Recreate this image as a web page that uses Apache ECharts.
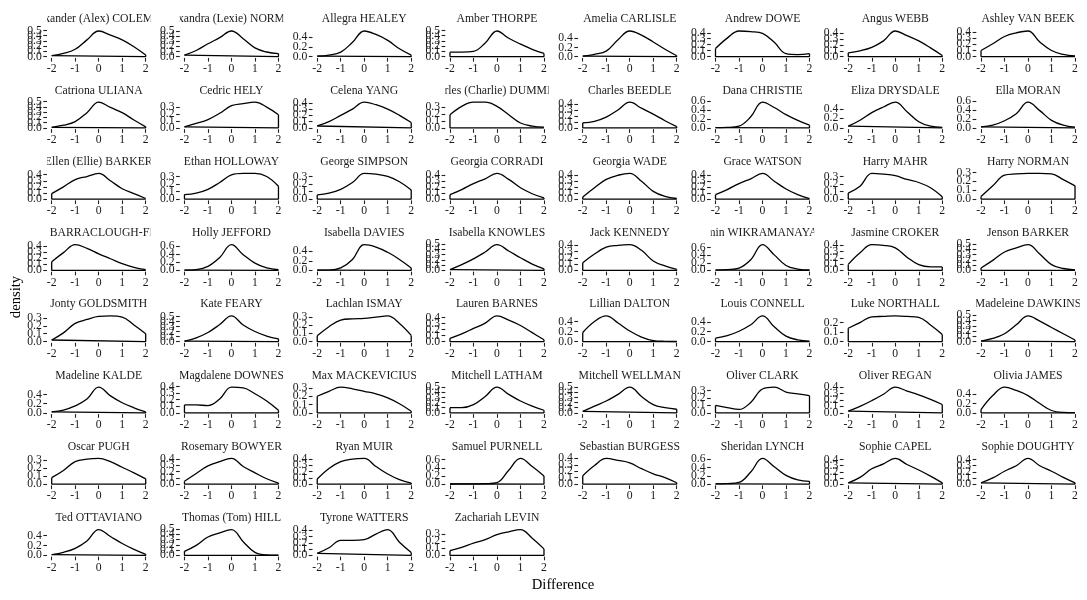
<!DOCTYPE html>
<html>
<head>
<meta charset="utf-8">
<script src="https://cdn.jsdelivr.net/npm/echarts@6/dist/echarts.min.js"></script>
<style>
  html, body { margin: 0; padding: 0; background: #fff; }
  #main { width: 1087px; height: 600px; }
</style>
</head>
<body>
<div id="main"></div>
<script>
// panel names, in facet order (8 per row)
var names = [
  'Alexander (Alex) COLEMAN', 'Alexandra (Lexie) NORMAN', 'Allegra HEALEY', 'Amber THORPE',
  'Amelia CARLISLE', 'Andrew DOWE', 'Angus WEBB', 'Ashley VAN BEEK',
  'Catriona ULIANA', 'Cedric HELY', 'Celena YANG', 'Charles (Charlie) DUMMETT',
  'Charles BEEDLE', 'Dana CHRISTIE', 'Eliza DRYSDALE', 'Ella MORAN',
  'Ellen (Ellie) BARKER', 'Ethan HOLLOWAY', 'George SIMPSON', 'Georgia CORRADI',
  'Georgia WADE', 'Grace WATSON', 'Harry MAHR', 'Harry NORMAN',
  'Hannah BARRACLOUGH-FRASER', 'Holly JEFFORD', 'Isabella DAVIES', 'Isabella KNOWLES',
  'Jack KENNEDY', 'Jasmin WIKRAMANAYAKE', 'Jasmine CROKER', 'Jenson BARKER',
  'Jonty GOLDSMITH', 'Kate FEARY', 'Lachlan ISMAY', 'Lauren BARNES',
  'Lillian DALTON', 'Louis CONNELL', 'Luke NORTHALL', 'Madeleine DAWKINS',
  'Madeline KALDE', 'Magdalene DOWNES', 'Max MACKEVICIUS', 'Mitchell LATHAM',
  'Mitchell WELLMAN', 'Oliver CLARK', 'Oliver REGAN', 'Olivia JAMES',
  'Oscar PUGH', 'Rosemary BOWYER', 'Ryan MUIR', 'Samuel PURNELL',
  'Sebastian BURGESS', 'Sheridan LYNCH', 'Sophie CAPEL', 'Sophie DOUGHTY',
  'Ted OTTAVIANO', 'Thomas (Tom) HILL', 'Tyrone WATTERS', 'Zachariah LEVIN'
];

var xs = [-2, -1.5, -1, -0.5, 0, 0.5, 1, 1.5, 2];

// density at each x, one row per panel
var densities = [
  [0.02, 0.06, 0.14, 0.32, 0.49, 0.41, 0.32, 0.19, 0.03],
  [0.03, 0.12, 0.25, 0.37, 0.50, 0.35, 0.17, 0.09, 0.06],
  [0.01, 0.03, 0.09, 0.29, 0.52, 0.45, 0.33, 0.16, 0.03],
  [0.085, 0.085, 0.10, 0.26, 0.49, 0.35, 0.24, 0.14, 0.06],
  [0.01, 0.05, 0.12, 0.37, 0.56, 0.47, 0.32, 0.16, 0.02],
  [0.135, 0.31, 0.43, 0.42, 0.39, 0.24, 0.05, 0.035, 0.05],
  [0.065, 0.10, 0.16, 0.27, 0.44, 0.36, 0.27, 0.15, 0.02],
  [0.10, 0.21, 0.33, 0.39, 0.42, 0.24, 0.10, 0.035, 0.01],

  [0.01, 0.05, 0.12, 0.29, 0.49, 0.39, 0.29, 0.15, 0.02],
  [0.015, 0.064, 0.12, 0.21, 0.32, 0.35, 0.37, 0.30, 0.19],
  [0.03, 0.10, 0.20, 0.30, 0.41, 0.37, 0.30, 0.20, 0.085],
  [0.19, 0.31, 0.37, 0.37, 0.31, 0.19, 0.07, 0.025, 0.01],
  [0.085, 0.11, 0.18, 0.30, 0.43, 0.33, 0.23, 0.12, 0.02],
  [0.005, 0.01, 0.04, 0.25, 0.58, 0.46, 0.30, 0.17, 0.06],
  [0.035, 0.16, 0.32, 0.44, 0.54, 0.34, 0.13, 0.035, 0.01],
  [0.02, 0.06, 0.16, 0.32, 0.58, 0.39, 0.17, 0.06, 0.015],

  [0.09, 0.20, 0.32, 0.37, 0.42, 0.30, 0.17, 0.09, 0.01],
  [0.06, 0.08, 0.13, 0.22, 0.32, 0.34, 0.34, 0.30, 0.17],
  [0.055, 0.08, 0.13, 0.22, 0.34, 0.33, 0.30, 0.23, 0.12],
  [0.075, 0.16, 0.26, 0.34, 0.43, 0.33, 0.19, 0.09, 0.02],
  [0.035, 0.19, 0.33, 0.40, 0.43, 0.30, 0.13, 0.045, 0.01],
  [0.075, 0.16, 0.26, 0.34, 0.43, 0.30, 0.17, 0.075, 0.01],
  [0.08, 0.17, 0.34, 0.33, 0.31, 0.26, 0.22, 0.15, 0.03],
  [0.03, 0.15, 0.27, 0.285, 0.29, 0.29, 0.285, 0.22, 0.15],

  [0.14, 0.29, 0.42, 0.36, 0.27, 0.19, 0.11, 0.05, 0.01],
  [0.005, 0.02, 0.10, 0.32, 0.64, 0.39, 0.18, 0.06, 0.015],
  [0.005, 0.005, 0.05, 0.23, 0.54, 0.49, 0.38, 0.23, 0.05],
  [0.015, 0.11, 0.22, 0.35, 0.49, 0.37, 0.24, 0.12, 0.03],
  [0.12, 0.26, 0.37, 0.40, 0.41, 0.32, 0.15, 0.07, 0.015],
  [0.005, 0.02, 0.06, 0.28, 0.68, 0.41, 0.13, 0.035, 0.01],
  [0.095, 0.28, 0.41, 0.40, 0.36, 0.21, 0.09, 0.055, 0.055],
  [0.045, 0.19, 0.35, 0.43, 0.49, 0.31, 0.11, 0.035, 0.01],

  [0.02, 0.11, 0.23, 0.28, 0.32, 0.325, 0.31, 0.21, 0.10],
  [0.01, 0.075, 0.18, 0.34, 0.51, 0.33, 0.20, 0.11, 0.055],
  [0.07, 0.18, 0.26, 0.275, 0.28, 0.295, 0.31, 0.22, 0.075],
  [0.055, 0.13, 0.22, 0.31, 0.43, 0.36, 0.27, 0.15, 0.03],
  [0.18, 0.40, 0.51, 0.37, 0.21, 0.09, 0.02, 0.005, 0.002],
  [0.07, 0.12, 0.21, 0.34, 0.52, 0.30, 0.11, 0.035, 0.01],
  [0.14, 0.20, 0.26, 0.265, 0.27, 0.265, 0.255, 0.175, 0.075],
  [0.01, 0.06, 0.15, 0.32, 0.49, 0.39, 0.27, 0.15, 0.03],

  [0.02, 0.06, 0.15, 0.30, 0.56, 0.37, 0.22, 0.11, 0.02],
  [0.12, 0.12, 0.11, 0.21, 0.39, 0.38, 0.29, 0.18, 0.04],
  [0.20, 0.26, 0.31, 0.29, 0.26, 0.23, 0.18, 0.11, 0.02],
  [0.10, 0.10, 0.16, 0.32, 0.50, 0.36, 0.23, 0.13, 0.05],
  [0.03, 0.13, 0.23, 0.36, 0.50, 0.32, 0.16, 0.10, 0.07],
  [0.10, 0.07, 0.045, 0.14, 0.32, 0.345, 0.28, 0.255, 0.23],
  [0.025, 0.10, 0.19, 0.29, 0.40, 0.34, 0.28, 0.21, 0.13],
  [0.07, 0.37, 0.55, 0.48, 0.37, 0.20, 0.05, 0.01, 0.005],

  [0.08, 0.17, 0.28, 0.31, 0.32, 0.28, 0.21, 0.14, 0.065],
  [0.045, 0.17, 0.29, 0.36, 0.41, 0.28, 0.18, 0.085, 0.015],
  [0.08, 0.25, 0.36, 0.40, 0.41, 0.28, 0.16, 0.07, 0.015],
  [0.002, 0.003, 0.005, 0.01, 0.035, 0.34, 0.63, 0.43, 0.20],
  [0.13, 0.29, 0.40, 0.37, 0.33, 0.24, 0.16, 0.10, 0.02],
  [0.003, 0.01, 0.04, 0.29, 0.62, 0.42, 0.21, 0.10, 0.065],
  [0.02, 0.11, 0.25, 0.33, 0.42, 0.32, 0.23, 0.13, 0.02],
  [0.02, 0.10, 0.21, 0.30, 0.42, 0.30, 0.21, 0.11, 0.02],

  [0.015, 0.06, 0.14, 0.29, 0.52, 0.38, 0.24, 0.12, 0.02],
  [0.075, 0.19, 0.35, 0.43, 0.49, 0.26, 0.055, 0.007, 0.003],
  [0.03, 0.12, 0.24, 0.24, 0.25, 0.34, 0.41, 0.21, 0.045],
  [0.065, 0.11, 0.17, 0.22, 0.29, 0.33, 0.36, 0.24, 0.09]
];

// y tick step of each panel
var yStep = [
  0.1, 0.1, 0.2, 0.1, 0.2, 0.1, 0.1, 0.1,
  0.1, 0.1, 0.1, 0.1, 0.1, 0.2, 0.2, 0.2,
  0.1, 0.1, 0.1, 0.1, 0.1, 0.1, 0.1, 0.1,
  0.1, 0.2, 0.2, 0.1, 0.1, 0.2, 0.1, 0.1,
  0.1, 0.1, 0.1, 0.1, 0.2, 0.2, 0.1, 0.1,
  0.2, 0.1, 0.1, 0.1, 0.1, 0.1, 0.1, 0.2,
  0.1, 0.1, 0.1, 0.2, 0.1, 0.2, 0.1, 0.1,
  0.2, 0.1, 0.1, 0.1
];

var xTicks = [-2, -1, 0, 1, 2];

var FONT = '"Liberation Serif", "DejaVu Serif", serif';
var TXT = '#1a1a1a';
var COLS = 8;
var PANEL_L = 47, PANEL_W = 103.4, COL_STEP = 132.76;
var PANEL_T = 29.7, PANEL_H = 28.2, ROW_STEP = 71.24;
var TITLE_Y = 19.3;
var TICK_LEN = 3.7;
var X_MIN = -2.2, X_MAX = 2.2;

var chart = echarts.init(document.getElementById('main'));

var grids = [], xAxes = [], yAxes = [], series = [];

// y tick labels are drawn by a custom series so that none get thinned out
function yLabelItem(params, api) {
    var p = api.coord([X_MIN, api.value(1)]);
    return {
        type: 'text',
        x: p[0] - TICK_LEN - 1.5,
        y: p[1],
        style: {
            text: api.value(1).toFixed(1), fill: TXT, fontSize: 11.7, fontFamily: FONT,
            align: 'right', verticalAlign: 'middle'
        }
    };
}

for (var i = 0; i < names.length; i++) {
    var c = i % COLS, r = Math.floor(i / COLS);
    var d = densities[i];
    var dmax = Math.max.apply(null, d);
    var yMax = dmax * 1.05;
    var yTicks = [];
    for (var t = 0; t <= yMax + 1e-9; t = Math.round((t + yStep[i]) * 10) / 10) {
        yTicks.push(t);
    }

    grids.push({
        left: PANEL_L + c * COL_STEP,
        top: PANEL_T + r * ROW_STEP,
        width: PANEL_W,
        height: PANEL_H,
        containLabel: false,
        outerBoundsMode: 'none'
    });

    xAxes.push({
        type: 'value',
        gridIndex: i,
        min: X_MIN,
        max: X_MAX,
        axisLine: {show: false, onZero: false},
        splitLine: {show: false},
        axisTick: {show: true, length: TICK_LEN, customValues: xTicks, lineStyle: {color: '#222', width: 1.1}},
        axisLabel: {
            customValues: xTicks, margin: 5, fontSize: 11.7, fontFamily: FONT, color: TXT,
            showMinLabel: true, showMaxLabel: true, hideOverlap: false
        }
    });

    yAxes.push({
        type: 'value',
        gridIndex: i,
        min: -0.05 * dmax,
        max: yMax,
        axisLine: {show: false, onZero: false},
        splitLine: {show: false},
        axisTick: {show: true, length: TICK_LEN, customValues: yTicks, lineStyle: {color: '#222', width: 1.1}},
        axisLabel: {show: false}
    });

    var pts = [];
    for (var k = 0; k < xs.length; k++) pts.push([xs[k], d[k]]);

    series.push({
        type: 'line', xAxisIndex: i, yAxisIndex: i,
        data: pts, smooth: 0.4, symbol: 'none', silent: true,
        lineStyle: {color: '#000', width: 1.3}
    });
    // closing sides and baseline of the density polygon
    series.push({
        type: 'line', xAxisIndex: i, yAxisIndex: i,
        data: [[-2, d[0]], [-2, 0], [2, 0], [2, d[d.length - 1]]],
        symbol: 'none', silent: true,
        lineStyle: {color: '#000', width: 1.3}
    });
    series.push({
        type: 'custom', xAxisIndex: i, yAxisIndex: i,
        coordinateSystem: 'cartesian2d', silent: true, clip: false,
        data: yTicks.map(function (v) { return [X_MIN, v]; }),
        renderItem: yLabelItem
    });
}

// strip labels, clipped to the panel width like facet strips
series.push({
    type: 'custom',
    coordinateSystem: 'none',
    silent: true,
    data: names.map(function (n, i) { return [i]; }),
    renderItem: function (params, api) {
        var i = params.dataIndex;
        var c = i % COLS, r = Math.floor(i / COLS);
        var x0 = PANEL_L + c * COL_STEP;
        var y0 = TITLE_Y + r * ROW_STEP;
        return {
            type: 'group',
            clipPath: {type: 'rect', shape: {x: x0, y: y0 - 10, width: PANEL_W, height: 20}},
            children: [{
                type: 'text',
                x: x0 + PANEL_W / 2,
                y: y0,
                style: {
                    text: names[i], fill: TXT, fontSize: 11.7, fontFamily: FONT,
                    align: 'center', verticalAlign: 'middle'
                }
            }]
        };
    }
});

option = {
    animation: false,
    backgroundColor: '#fff',
    grid: grids,
    xAxis: xAxes,
    yAxis: yAxes,
    series: series,
    graphic: [
        {
            type: 'text', x: 563, y: 585,
            style: {text: 'Difference', fontSize: 14.7, fontFamily: FONT, fill: '#000', align: 'center', verticalAlign: 'middle'}
        },
        {
            type: 'text', x: 16, y: 297, rotation: Math.PI / 2,
            style: {text: 'density', fontSize: 14.7, fontFamily: FONT, fill: '#000', align: 'center', verticalAlign: 'middle'}
        }
    ]
};

chart.setOption(option);
</script>
</body>
</html>
